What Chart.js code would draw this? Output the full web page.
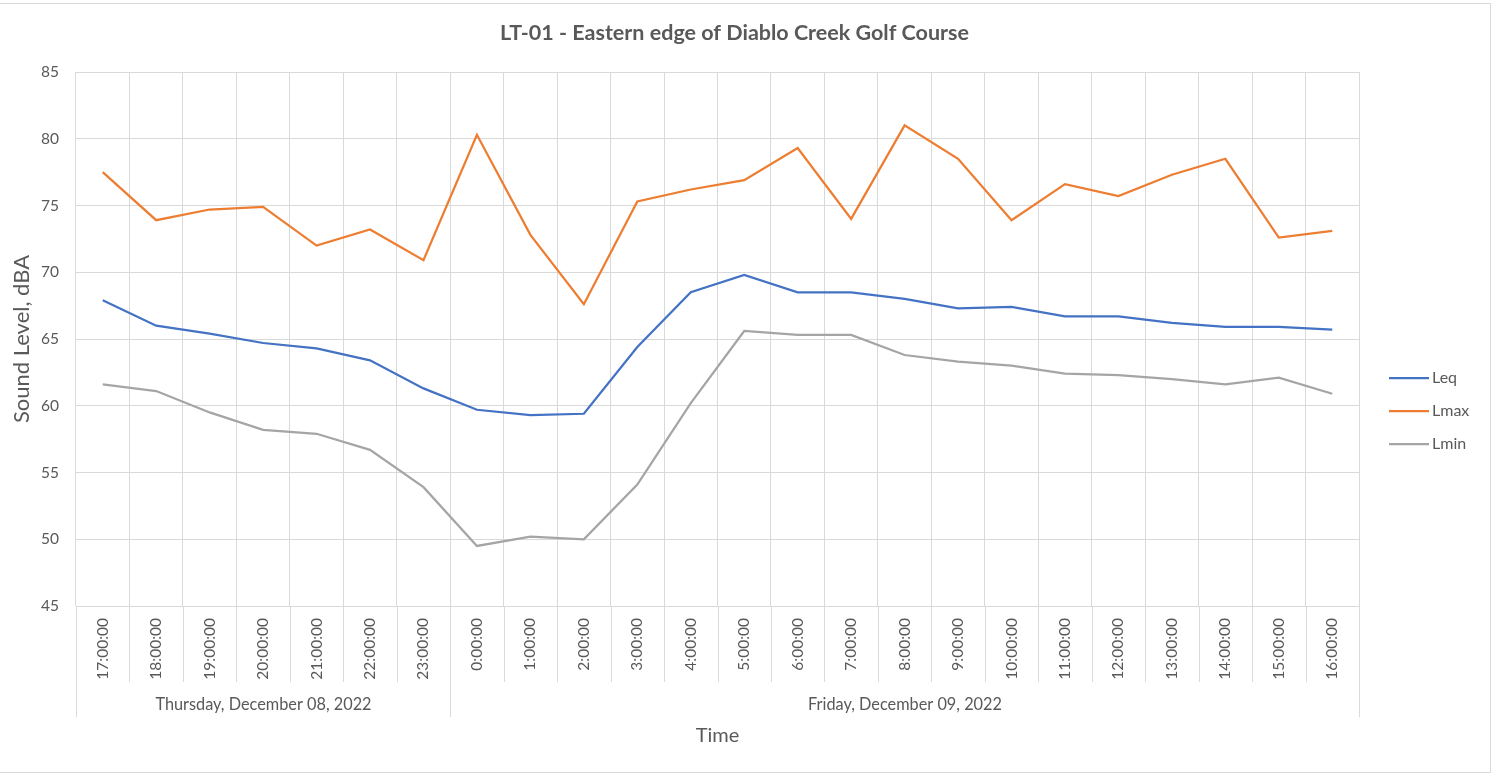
<!DOCTYPE html>
<html>
<head>
<meta charset="utf-8">
<title>LT-01 - Eastern edge of Diablo Creek Golf Course</title>
<script src="https://cdn.jsdelivr.net/npm/chart.js@4.4.1/dist/chart.umd.min.js"></script>
<style>
    html, body { margin: 0; padding: 0; background: #fff; overflow: hidden; }
    #frame {
        position: absolute; left: -21px; top: 3px;
        width: 1512px; height: 770px;
        border: 1px solid #d9d9d9; box-sizing: border-box;
    }
    #chart { display: block; }
</style>
</head>
<body>
<div id="frame"><canvas id="chart" width="1510" height="768"></canvas></div>
<script>
// hourly readings, 17:00 Thu -> 16:00 Fri
const hours = [
    "17:00:00", "18:00:00", "19:00:00", "20:00:00", "21:00:00", "22:00:00", "23:00:00",
    "0:00:00", "1:00:00", "2:00:00", "3:00:00", "4:00:00", "5:00:00", "6:00:00",
    "7:00:00", "8:00:00", "9:00:00", "10:00:00", "11:00:00", "12:00:00", "13:00:00",
    "14:00:00", "15:00:00", "16:00:00",
];
const days     = ["Thursday, December 08, 2022", "Friday, December 09, 2022"];
const daySpans = [7, 17];   // number of hours under each day

const leq  = [67.9, 66.0, 65.4, 64.7, 64.3, 63.4, 61.3, 59.7, 59.3, 59.4, 64.4, 68.5,
              69.8, 68.5, 68.5, 68.0, 67.3, 67.4, 66.7, 66.7, 66.2, 65.9, 65.9, 65.7];
const lmax = [77.5, 73.9, 74.7, 74.9, 72.0, 73.2, 70.9, 80.3, 72.8, 67.6, 75.3, 76.2,
              76.9, 79.3, 74.0, 81.0, 78.5, 73.9, 76.6, 75.7, 77.3, 78.5, 72.6, 73.1];
const lmin = [61.6, 61.1, 59.5, 58.2, 57.9, 56.7, 53.9, 49.5, 50.2, 50.0, 54.1, 60.2,
              65.6, 65.3, 65.3, 63.8, 63.3, 63.0, 62.4, 62.3, 62.0, 61.6, 62.1, 60.9];

const GRID = "#d9d9d9";
const TEXT = "#595959";

Chart.defaults.font.family = "Lato, 'Liberation Sans', sans-serif";
Chart.defaults.color = TEXT;

// second row of the category axis: day names under their hours
const dayAxis = {
    id: "dayAxis",
    afterDraw(chart) {
        const x = chart.scales.x;
        const ctx = chart.ctx;
        const edge = i => Math.round(x.getPixelForValue(i - 0.5)) + 0.5;
        const dayEdges = [0];
        daySpans.forEach(n => dayEdges.push(dayEdges[dayEdges.length - 1] + n));

        ctx.save();
        ctx.strokeStyle = GRID;
        ctx.lineWidth = 1;
        for (let i = 0; i <= hours.length; i++) {
            const bottom = dayEdges.includes(i) ? x.top + 111 : x.top + 76;
            ctx.beginPath();
            ctx.moveTo(edge(i), x.top);
            ctx.lineTo(edge(i), bottom);
            ctx.stroke();
        }
        ctx.fillStyle = TEXT;
        ctx.font = "16.3px Lato";
        ctx.textAlign = "center";
        ctx.textBaseline = "middle";
        days.forEach((d, k) => {
            const mid = (edge(dayEdges[k]) + edge(dayEdges[k + 1])) / 2;
            ctx.fillText(d, mid, x.top + 99);
        });
        ctx.restore();
    },
};

// legend at the right, one line sample per series
const sideLegend = {
    id: "sideLegend",
    afterDraw(chart) {
        const ctx = chart.ctx;
        const area = chart.chartArea;
        const x0 = area.right + 30;
        const y0 = (area.top + area.bottom) / 2 + 39;
        ctx.save();
        ctx.font = "16px Lato";
        ctx.textBaseline = "middle";
        ctx.textAlign = "left";
        chart.data.datasets.forEach((ds, i) => {
            const y = y0 + i * 33;
            ctx.strokeStyle = ds.borderColor;
            ctx.lineWidth = ds.borderWidth;
            ctx.beginPath();
            ctx.moveTo(x0, y);
            ctx.lineTo(x0 + 40, y);
            ctx.stroke();
            ctx.fillStyle = TEXT;
            ctx.fillText(ds.label, x0 + 43, y);
        });
        ctx.restore();
    },
};

new Chart(document.getElementById("chart"), {
    type: "line",
    data: {
        labels: hours,
        datasets: [
            { label: "Leq",  data: leq,  borderColor: "#4472c4", borderWidth: 2.25, pointRadius: 0, tension: 0 },
            { label: "Lmax", data: lmax, borderColor: "#ed7d31", borderWidth: 2.25, pointRadius: 0, tension: 0 },
            { label: "Lmin", data: lmin, borderColor: "#a5a5a5", borderWidth: 2.25, pointRadius: 0, tension: 0 },
        ],
    },
    options: {
        responsive: false,
        animation: false,
        layout: { padding: { left: 10, right: 11, top: 6, bottom: 10 } },
        plugins: {
            legend: { display: false },
            tooltip: { enabled: false },
            title: {
                display: true,
                text: "LT-01 - Eastern edge of Diablo Creek Golf Course",
                color: TEXT,
                font: { size: 21.5, weight: "bold" },
                padding: { top: 10.1, bottom: 26.1 },
            },
        },
        scales: {
            x: {
                offset: true,
                grid: { offset: true, color: GRID, drawTicks: false },
                border: { display: false },
                ticks: {
                    autoSkip: false, minRotation: 90, maxRotation: 90,
                    padding: 12, color: TEXT, font: { size: 15.5 },
                },
                title: {
                    display: true, text: "Time", color: TEXT,
                    font: { size: 20 }, padding: { top: 0, bottom: 14 },
                },
                afterFit: s => { s.height = 156; },
            },
            y: {
                min: 45,
                max: 85,
                grid: { color: GRID, drawTicks: false },
                border: { display: false },
                ticks: { stepSize: 5, padding: 17, color: TEXT, font: { size: 15.5 } },
                title: {
                    display: true, text: "Sound Level, dBA", color: TEXT,
                    font: { size: 22 }, padding: { top: 18.8, bottom: 0 },
                },
                afterFit: s => { s.width = 86; },
            },
            // empty axis that only reserves room for the legend
            room: {
                type: "linear",
                position: "right",
                display: true,
                grid: { display: false },
                border: { display: false },
                ticks: { display: false },
                afterFit: s => { s.width = 120; },
            },
        },
    },
    plugins: [dayAxis, sideLegend],
});
</script>
</body>
</html>
